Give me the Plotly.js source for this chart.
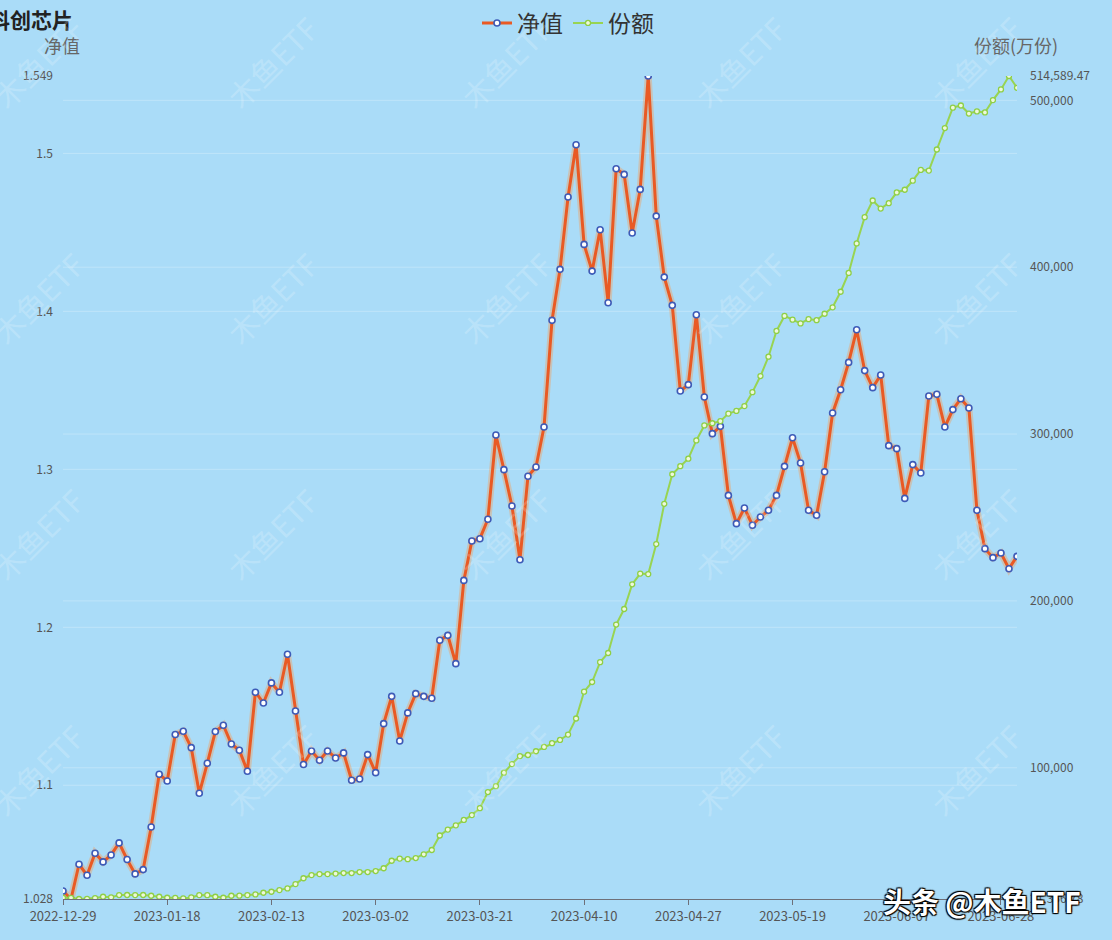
<!DOCTYPE html>
<html>
<head>
<meta charset="utf-8">
<script src="https://cdn.plot.ly/plotly-3.0.1.min.js"></script>
<style>
  html, body { margin: 0; padding: 0; background: #aadcf8; }
  #chart { width: 1112px; height: 940px; }
</style>
</head>
<body>
<div id="chart"></div>
<script>
// ---- data ----
const dates = [
  "2022-12-29","2022-12-30",
  "2023-01-03","2023-01-04","2023-01-05","2023-01-06","2023-01-09","2023-01-10","2023-01-11","2023-01-12","2023-01-13",
  "2023-01-16","2023-01-17","2023-01-18","2023-01-19","2023-01-20","2023-01-30","2023-01-31",
  "2023-02-01","2023-02-02","2023-02-03","2023-02-06","2023-02-07","2023-02-08","2023-02-09","2023-02-10",
  "2023-02-13","2023-02-14","2023-02-15","2023-02-16","2023-02-17","2023-02-20","2023-02-21","2023-02-22","2023-02-23","2023-02-24",
  "2023-02-27","2023-02-28",
  "2023-03-01","2023-03-02","2023-03-03","2023-03-06","2023-03-07","2023-03-08","2023-03-09","2023-03-10",
  "2023-03-13","2023-03-14","2023-03-15","2023-03-16","2023-03-17","2023-03-20","2023-03-21","2023-03-22","2023-03-23","2023-03-24",
  "2023-03-27","2023-03-28","2023-03-29","2023-03-30","2023-03-31",
  "2023-04-03","2023-04-04","2023-04-06","2023-04-07","2023-04-10","2023-04-11","2023-04-12","2023-04-13","2023-04-14",
  "2023-04-17","2023-04-18","2023-04-19","2023-04-20","2023-04-21","2023-04-24","2023-04-25","2023-04-26","2023-04-27","2023-04-28",
  "2023-05-04","2023-05-05","2023-05-08","2023-05-09","2023-05-10","2023-05-11","2023-05-12",
  "2023-05-15","2023-05-16","2023-05-17","2023-05-18","2023-05-19","2023-05-22","2023-05-23","2023-05-24","2023-05-25","2023-05-26",
  "2023-05-29","2023-05-30","2023-05-31",
  "2023-06-01","2023-06-02","2023-06-05","2023-06-06","2023-06-07","2023-06-08","2023-06-09",
  "2023-06-12","2023-06-13","2023-06-14","2023-06-15","2023-06-16","2023-06-19","2023-06-20","2023-06-21",
  "2023-06-26","2023-06-27","2023-06-28","2023-06-29","2023-06-30"
];

const netValue = [
  1.0331,1.028,1.050,1.043,1.057,1.0515,1.0559,1.0635,1.053,1.0439,
  1.0466,1.0736,1.107,1.1027,1.1321,1.1342,1.1238,1.0949,1.1139,1.134,
  1.138,1.1261,1.1222,1.1089,1.1589,1.1521,1.1648,1.1589,1.1829,1.147,
  1.1131,1.1217,1.1158,1.1217,1.1173,1.1205,1.1032,1.104,1.1194,1.108,
  1.139,1.1563,1.128,1.1458,1.158,1.1563,1.1551,1.1918,1.1949,1.177,
  1.2297,1.2546,1.2561,1.2684,1.3217,1.2998,1.2768,1.2428,1.2956,1.3015,
  1.3268,1.3943,1.4266,1.4724,1.5055,1.4424,1.4255,1.4517,1.4055,1.4903,
  1.4867,1.4496,1.4772,1.549,1.4603,1.4217,1.4038,1.3496,1.3536,1.3979,
  1.3458,1.3226,1.3272,1.2835,1.2656,1.2755,1.2646,1.2698,1.2741,1.2835,
  1.3019,1.320,1.304,1.2741,1.2709,1.2985,1.3357,1.3504,1.3677,1.3884,
  1.3625,1.3517,1.3597,1.315,1.3131,1.2816,1.303,1.2977,1.3464,1.3475,
  1.3268,1.3378,1.3447,1.3388,1.2741,1.2498,1.2441,1.247,1.2371,1.2449
];

const shares = [
  22102,22050,21356.78,21480,21900,22700,22350,23720,23750,23700,
  23760,23300,22700,22100,22050,21700,22300,23700,23650,22700,
  22100,23300,23350,23700,24100,25100,25700,26700,27700,30300,
  33800,35700,36300,36300,36600,36900,36900,37500,37500,38100,
  39780,44283,45570,45249,45892,48144,50717,59403,62942,65516,
  68733,71628,75810,85461,89000,97042,102189,107015,107658,109910,
  112484,114736,116666,119883,129534,145619,151410,163312,168781,185831,
  195161,209959,216393,216071,234086,258214,275907,280733,285237,296175,
  305182,306469,307756,312260,313868,316763,325128,334779,346360,361801,
  370809,368557,366305,368879,368235,372096,375956,385285,396545,414238,
  430002,439974,435149,438366,444800,446408,451877,458311,457900,470536,
  483404,495629,496915,492090,493377,492733,500132,506566,514589.47,507531
];

const xTickIdx = [0,13,26,39,52,65,78,91,104,117];
const leftTicks = [1.1,1.2,1.3,1.4,1.5];
const rightTicks = [100000,200000,300000,400000,500000];

// ---- derived ----
const nvMin = Math.min(...netValue), nvMax = Math.max(...netValue);
const shMin = Math.min(...shares), shMax = Math.max(...shares);
const fmt = v => v.toLocaleString('en-US', {maximumFractionDigits: 2});
const xTickVals = xTickIdx.map(i => dates[i]);

const font = '"Noto Sans CJK SC", "Noto Sans", sans-serif';

// plot area pixels
const L = 63, R = 95, T = 76, B = 41, W = 1112, H = 940;
const pw = W - L - R, ph = H - T - B;
const px = x => (x - L) / pw;
const py = y => (H - B - y) / ph;

const traces = [
  { // glow under net value line
    x: dates, y: netValue, type: 'scatter', mode: 'lines', yaxis: 'y',
    line: {color: 'rgba(255,150,70,0.35)', width: 7}, hoverinfo: 'skip', showlegend: false
  },
  {
    name: '净值', x: dates, y: netValue, type: 'scatter', mode: 'lines+markers', yaxis: 'y',
    line: {color: '#e95a24', width: 3},
    marker: {symbol: 'circle', size: 6, color: '#ffffff', line: {color: '#3d5bb8', width: 1.6}}
  },
  {
    name: '份额', x: dates, y: shares, type: 'scatter', mode: 'lines+markers', yaxis: 'y2',
    line: {color: '#98d452', width: 2},
    marker: {symbol: 'circle', size: 5, color: '#eef8dc', line: {color: '#8fcf45', width: 1.3}}
  }
];

const shapes = [];
leftTicks.forEach(v => shapes.push({type:'line', xref:'paper', x0:0, x1:1, yref:'y', y0:v, y1:v,
  line:{color:'rgba(255,255,255,0.25)', width:1}, layer:'below'}));
rightTicks.forEach(v => shapes.push({type:'line', xref:'paper', x0:0, x1:1, yref:'y2', y0:v, y1:v,
  line:{color:'rgba(255,255,255,0.25)', width:1}, layer:'below'}));

const annotations = [
  {text: '科创芯片', xref:'paper', yref:'paper', x: px(-13), y: py(19), xanchor:'left', yanchor:'middle',
   showarrow:false, font:{family: font, size: 21, color:'#222', weight: 700}},
  {text: '净值', xref:'paper', yref:'paper', x: px(62), y: py(45), xanchor:'center', yanchor:'middle',
   showarrow:false, font:{family: font, size: 18, color:'#666'}},
  {text: '份额(万份)', xref:'paper', yref:'paper', x: px(1016), y: py(45), xanchor:'center', yanchor:'middle',
   showarrow:false, font:{family: font, size: 18, color:'#666'}}
];

// faint diagonal watermarks
const wmX = [38, 272, 506, 740, 976];
const wmY = [62, 298, 534, 770];
wmY.forEach(yy => wmX.forEach(xx => annotations.push({
  text: '木鱼ETF', xref:'paper', yref:'paper', x: px(xx), y: py(yy), xanchor:'center', yanchor:'middle',
  showarrow:false, textangle: -45, font:{family: font, size: 30, color:'rgba(255,255,255,0.2)'}
})));

annotations.push({
  text: '头条 @木鱼ETF', xref:'paper', yref:'paper', x: px(982), y: py(901), xanchor:'center', yanchor:'middle',
  showarrow:false, font:{family: font, size: 28, color:'#ffffff', weight: 700,
    shadow: '1px 1px 1px #000, -1px -1px 1px #000, 1px -1px 1px #000, -1px 1px 1px #000'}
});

const layout = {
  width: W, height: H,
  margin: {l: L, r: R, t: T, b: B, pad: 0, autoexpand: false},
  paper_bgcolor: '#aadcf8', plot_bgcolor: '#aadcf8',
  font: {family: font, color: '#555'},
  showlegend: true,
  legend: {orientation: 'h', x: px(568), xanchor: 'center', y: py(23), yanchor: 'middle',
    font: {family: font, size: 23, color: '#333'}, bgcolor: 'rgba(0,0,0,0)'},
  xaxis: {
    type: 'category', range: [0, dates.length - 1],
    tickmode: 'array', tickvals: xTickVals, ticktext: xTickVals,
    tickfont: {size: 13, color: '#555'}, ticks: 'outside', ticklen: 5, tickcolor: '#6e7079',
    showline: true, linecolor: '#6e7079', linewidth: 1, showgrid: false, zeroline: false
  },
  yaxis: {
    range: [nvMin, nvMax], tickmode: 'array',
    tickvals: [nvMin, ...leftTicks, nvMax],
    ticktext: [nvMin.toFixed(3), ...leftTicks.map(v => String(v)), nvMax.toFixed(3)],
    tickfont: {size: 12, color: '#555'}, ticks: '', ticklabelstandoff: 9,
    showgrid: false, zeroline: false, showline: false
  },
  yaxis2: {
    overlaying: 'y', side: 'right', range: [shMin, shMax], tickmode: 'array',
    tickvals: [shMin, ...rightTicks, shMax],
    ticktext: [fmt(shMin), ...rightTicks.map(fmt), fmt(shMax)],
    tickfont: {size: 12, color: '#555'}, ticks: '', ticklabelstandoff: 12,
    showgrid: false, zeroline: false, showline: false
  },
  shapes: shapes,
  annotations: annotations
};

Plotly.newPlot('chart', traces, layout, {displayModeBar: false, staticPlot: true});
</script>
</body>
</html>
